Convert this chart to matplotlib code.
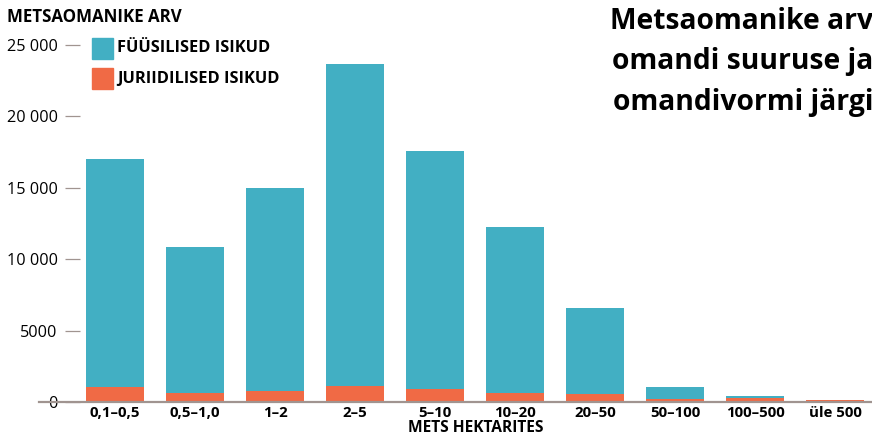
import matplotlib
matplotlib.use("Agg")
import matplotlib.pyplot as plt
import numpy as np
from matplotlib.patches import Rectangle

categories = ["0,1–0,5", "0,5–1,0", "1–2", "2–5", "5–10", "10–20", "20–50", "50–100", "100–500", "üle 500"]
totals = [17000, 10850, 15000, 23700, 17550, 12250, 6580, 1050, 420, 140]
juriidilised = [1050, 630, 770, 1140, 910, 630, 580, 190, 260, 140]
fyysilised = [t - j for t, j in zip(totals, juriidilised)]
yticks = [0, 5000, 10000, 15000, 20000, 25000]
ytick_labels = ["0", "5000", "10 000", "15 000", "20 000", "25 000"]

BLUE = "#42afc3"
ORANGE = "#f06a45"
AXC = "#a09490"
FONT = ["Open Sans", "DejaVu Sans"]

plt.rcParams["font.family"] = FONT

W, H = 872, 443
fig = plt.figure(figsize=(W / 100, H / 100), dpi=100)
left_px, right_px, top_px, bottom_px = 80, 872, 45, 402
ax = fig.add_axes([left_px / W, 1 - bottom_px / H, (right_px - left_px) / W, (bottom_px - top_px) / H])

x = np.arange(len(categories))
ax.bar(x, juriidilised, width=0.72, color=ORANGE, zorder=2)
ax.bar(x, fyysilised, width=0.72, bottom=juriidilised, color=BLUE, zorder=2)

ax.set_xlim(-(115 - left_px) / 80, (right_px - 115) / 80)
ax.set_ylim(0, 25000)

for s in ["top", "right", "left", "bottom"]:
    ax.spines[s].set_visible(False)
ax.axhline(0, xmin=(39 - left_px) / (right_px - left_px), xmax=1, color=AXC, lw=1.6, clip_on=False, zorder=3)

ax.set_yticks(yticks)
ax.set_yticklabels(ytick_labels, fontsize=11.7)
ax.tick_params(axis="y", direction="out", length=11, width=0.9, color=AXC, pad=5)
ax.set_xticks(x)
ax.set_xticklabels(categories, fontsize=10.8, fontweight="bold")
ax.tick_params(axis="x", length=0, pad=3)
ax.set_xlabel("METS HEKTARITES", fontsize=11.2, fontweight="bold", labelpad=0)

fig.text(7 / W, 1 - 17 / H, "METSAOMANIKE ARV", fontsize=12.2, fontweight="bold", va="center", ha="left")

for (y0, col, lab) in [(38, BLUE, "FÜÜSILISED ISIKUD"), (68, ORANGE, "JURIIDILISED ISIKUD")]:
    fig.patches.append(Rectangle((92 / W, 1 - (y0 + 21) / H), 21 / W, 21 / H, transform=fig.transFigure, color=col))
    fig.text(117 / W, 1 - (y0 + 10.5) / H, lab, fontsize=11.8, fontweight="bold", va="center", ha="left")

fig.text(873 / W, 1 - 7 / H, "Metsaomanike arv\nomandi suuruse ja\nomandivormi järgi", fontsize=20.3,
         fontweight="bold", ha="right", va="top", linespacing=1.52)

fig.savefig("out.png", dpi=100)
